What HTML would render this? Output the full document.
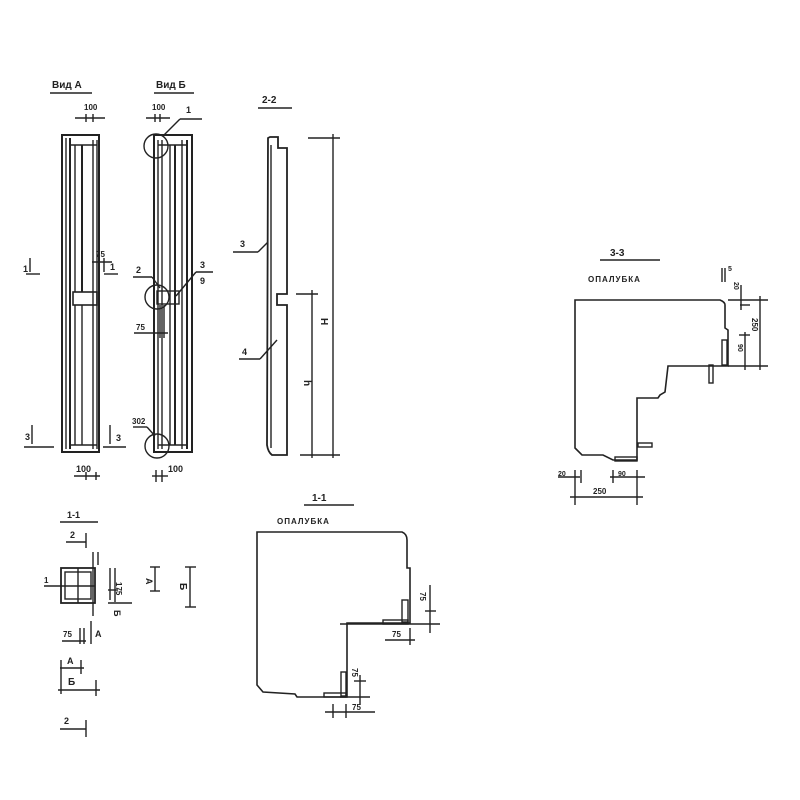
<!DOCTYPE html>
<html><head><meta charset="utf-8"><style>
html,body{margin:0;padding:0;background:#fff;}
svg{display:block}
text{font-family:"Liberation Sans",sans-serif;fill:#222;font-weight:bold}
</style></head><body>
<svg width="800" height="800" viewBox="0 0 800 800" xmlns="http://www.w3.org/2000/svg" stroke="#222" fill="none" stroke-width="1.4">
<!-- Titles -->
<text x="52" y="88" font-size="10" stroke="none">Вид А</text><line x1="50" y1="93" x2="92" y2="93"/>
<text x="156" y="88" font-size="10" stroke="none">Вид Б</text><line x1="154" y1="93" x2="194" y2="93"/>
<text x="262" y="103" font-size="10" stroke="none">2-2</text><line x1="258" y1="108" x2="292" y2="108"/>

<!-- Vid A column -->
<rect x="62" y="135" width="37" height="317" stroke-width="2"/>
<line x1="66" y1="138" x2="66" y2="449"/>
<line x1="70" y1="138" x2="70" y2="449" stroke-width="2"/>
<line x1="75" y1="145" x2="75" y2="292"/>
<line x1="82" y1="145" x2="82" y2="292" stroke-width="2"/>
<line x1="75" y1="305" x2="75" y2="445"/>
<line x1="82" y1="305" x2="82" y2="445"/>
<line x1="93" y1="140" x2="93" y2="449"/>
<line x1="97" y1="140" x2="97" y2="449"/>
<line x1="70" y1="145" x2="97" y2="145"/>
<line x1="70" y1="445" x2="97" y2="445"/>
<rect x="73" y="292" width="24" height="13" stroke-width="1.6"/>
<!-- dims A -->
<line x1="75" y1="118" x2="105" y2="118"/><line x1="86" y1="114" x2="86" y2="122"/><line x1="93" y1="114" x2="93" y2="122"/>
<text x="84" y="110" font-size="8" stroke="none">100</text>
<text x="76" y="472" font-size="9" stroke="none">100</text>
<line x1="74" y1="476" x2="100" y2="476"/><line x1="86" y1="472" x2="86" y2="480"/><line x1="96" y1="472" x2="96" y2="480"/>
<text x="23" y="272" font-size="9" stroke="none">1</text><line x1="30" y1="258" x2="30" y2="272"/><line x1="26" y1="274" x2="40" y2="274"/>
<line x1="104" y1="258" x2="104" y2="272"/><line x1="104" y1="274" x2="118" y2="274"/><text x="110" y="270" font-size="9" stroke="none">1</text>
<text x="96" y="257" font-size="8" stroke="none">75</text><line x1="92" y1="262" x2="112" y2="262"/>
<text x="25" y="440" font-size="9" stroke="none">3</text><line x1="32" y1="425" x2="32" y2="444"/><line x1="24" y1="447" x2="54" y2="447"/>
<line x1="110" y1="425" x2="110" y2="444"/><line x1="103" y1="447" x2="126" y2="447"/><text x="116" y="441" font-size="9" stroke="none">3</text>

<!-- Vid B column -->
<rect x="154" y="135" width="38" height="317" stroke-width="2"/>
<line x1="158" y1="140" x2="158" y2="449"/>
<line x1="162" y1="140" x2="162" y2="449"/>
<line x1="170" y1="145" x2="170" y2="445"/>
<line x1="175" y1="145" x2="175" y2="445" stroke-width="2"/>
<line x1="182" y1="140" x2="182" y2="449"/>
<line x1="187" y1="140" x2="187" y2="449" stroke-width="2"/>
<line x1="158" y1="145" x2="187" y2="145"/>
<line x1="158" y1="445" x2="187" y2="445"/>
<rect x="157" y="291" width="22" height="13"/>
<circle cx="156" cy="146" r="12"/><circle cx="157" cy="297" r="12"/><circle cx="157" cy="446" r="12"/>
<text x="152" y="110" font-size="8" stroke="none">100</text>
<line x1="146" y1="118" x2="170" y2="118"/><line x1="155" y1="114" x2="155" y2="122"/><line x1="160" y1="114" x2="160" y2="122"/>
<text x="186" y="113" font-size="9" stroke="none">1</text><line x1="163" y1="136" x2="180" y2="119"/><line x1="180" y1="119" x2="202" y2="119"/>
<text x="136" y="273" font-size="9" stroke="none">2</text><line x1="133" y1="277" x2="152" y2="277"/><line x1="152" y1="277" x2="160" y2="288"/>
<text x="200" y="268" font-size="9" stroke="none">3</text><line x1="196" y1="272" x2="213" y2="272"/><text x="200" y="284" font-size="9" stroke="none">9</text>
<line x1="196" y1="272" x2="176" y2="296"/>
<text x="136" y="330" font-size="8" stroke="none">75</text><line x1="134" y1="333" x2="168" y2="333"/>
<line x1="160" y1="305" x2="160" y2="338"/><line x1="164" y1="305" x2="164" y2="338"/>
<text x="132" y="424" font-size="8" stroke="none">302</text><line x1="133" y1="427" x2="147" y2="427"/><line x1="147" y1="427" x2="155" y2="436"/>
<text x="168" y="472" font-size="9" stroke="none">100</text>
<line x1="152" y1="476" x2="168" y2="476"/><line x1="156" y1="470" x2="156" y2="482"/><line x1="162" y1="470" x2="162" y2="482"/>

<!-- 2-2 profile -->
<path d="M268,138 L267,445 Q268,452 272,455 L287,455 L287,305 L277,305 L277,294 L287,294 L287,148 L278,148 L278,137 L270,137 Z" stroke-width="1.8"/>
<line x1="271" y1="145" x2="271" y2="448"/>
<line x1="308" y1="138" x2="340" y2="138"/><line x1="333" y1="134" x2="333" y2="458"/>
<line x1="296" y1="294" x2="318" y2="294"/><line x1="312" y1="290" x2="312" y2="458"/>
<line x1="300" y1="455" x2="340" y2="455"/>
<text x="0" y="0" font-size="10" stroke="none" transform="translate(321,318) rotate(90)">H</text>
<text x="0" y="0" font-size="10" stroke="none" transform="translate(304,380) rotate(90)">h</text>
<text x="240" y="247" font-size="9" stroke="none">3</text><line x1="233" y1="252" x2="258" y2="252"/><line x1="258" y1="252" x2="268" y2="242"/>
<text x="242" y="355" font-size="9" stroke="none">4</text><line x1="239" y1="359" x2="260" y2="359"/><line x1="260" y1="359" x2="277" y2="340"/>

<!-- small 1-1 -->
<text x="67" y="518" font-size="9" stroke="none">1-1</text><line x1="60" y1="522" x2="98" y2="522"/>
<text x="70" y="538" font-size="9" stroke="none">2</text><line x1="66" y1="542" x2="86" y2="542"/><line x1="86" y1="533" x2="86" y2="548"/>
<rect x="61" y="568" width="34" height="35" stroke-width="1.8"/>
<line x1="78" y1="568" x2="78" y2="603"/><line x1="61" y1="586" x2="95" y2="586"/>
<rect x="65" y="572" width="26" height="27"/>
<text x="44" y="583" font-size="8" stroke="none">1</text><line x1="44" y1="586" x2="62" y2="586"/>
<line x1="93" y1="552" x2="93" y2="616"/><line x1="98" y1="552" x2="98" y2="565"/>
<line x1="110" y1="568" x2="110" y2="600"/><line x1="108" y1="590" x2="118" y2="590"/>
<line x1="115" y1="568" x2="115" y2="602"/><line x1="108" y1="603" x2="132" y2="603"/>
<text x="0" y="0" font-size="8" stroke="none" transform="translate(116,582) rotate(90)">175</text>
<text x="0" y="0" font-size="9" stroke="none" transform="translate(114,610) rotate(90)">Б</text>
<line x1="155" y1="567" x2="155" y2="591"/><line x1="150" y1="567" x2="160" y2="567"/><line x1="150" y1="591" x2="160" y2="591"/>
<text x="0" y="0" font-size="9" stroke="none" transform="translate(146,578) rotate(90)">А</text>
<line x1="190" y1="567" x2="190" y2="607"/><line x1="185" y1="567" x2="196" y2="567"/><line x1="185" y1="607" x2="196" y2="607"/>
<text x="0" y="0" font-size="10" stroke="none" transform="translate(180,583) rotate(90)">Б</text>
<text x="63" y="637" font-size="8" stroke="none">75</text><line x1="62" y1="641" x2="86" y2="641"/><line x1="80" y1="628" x2="80" y2="644"/><line x1="84" y1="628" x2="84" y2="644"/>
<line x1="91" y1="621" x2="91" y2="644"/><text x="95" y="637" font-size="9" stroke="none">А</text>
<text x="67" y="664" font-size="9" stroke="none">А</text><line x1="60" y1="668" x2="84" y2="668"/><line x1="61" y1="660" x2="61" y2="694"/><line x1="81" y1="660" x2="81" y2="674"/>
<text x="68" y="685" font-size="10" stroke="none">Б</text><line x1="58" y1="690" x2="100" y2="690"/><line x1="96" y1="680" x2="96" y2="696"/>
<text x="64" y="724" font-size="9" stroke="none">2</text><line x1="60" y1="729" x2="86" y2="729"/><line x1="86" y1="720" x2="86" y2="737"/>

<!-- big 1-1 -->
<text x="312" y="501" font-size="10" stroke="none">1-1</text><line x1="304" y1="505" x2="354" y2="505"/>
<text x="277" y="524" font-size="8" stroke="none" letter-spacing="1">ОПАЛУБКА</text>
<path d="M257,532 L402,532 Q407,534 407,540 L407,568 L410,568 L410,623 L347,623 L347,697 L297,697 L295,694 L263,692 L257,685 Z" stroke-width="1.6"/>
<rect x="402" y="600" width="6" height="22"/><rect x="383" y="620" width="25" height="4"/>
<rect x="341" y="672" width="5" height="24"/><rect x="324" y="693" width="22" height="4"/>
<line x1="340" y1="624" x2="440" y2="624"/><line x1="430" y1="585" x2="430" y2="633"/><line x1="425" y1="611" x2="436" y2="611"/>
<text x="0" y="0" font-size="8" stroke="none" transform="translate(420,592) rotate(90)">75</text>
<line x1="385" y1="640" x2="415" y2="640"/><line x1="410" y1="628" x2="410" y2="645"/><text x="392" y="637" font-size="8" stroke="none">75</text>
<line x1="360" y1="675" x2="360" y2="705"/><line x1="354" y1="681" x2="366" y2="681"/><line x1="340" y1="697" x2="370" y2="697"/>
<text x="0" y="0" font-size="8" stroke="none" transform="translate(352,668) rotate(90)">75</text>
<line x1="325" y1="712" x2="375" y2="712"/><line x1="333" y1="704" x2="333" y2="718"/><line x1="346" y1="704" x2="346" y2="718"/>
<text x="352" y="710" font-size="8" stroke="none">75</text>

<!-- 3-3 -->
<text x="610" y="256" font-size="10" stroke="none">3-3</text><line x1="600" y1="260" x2="660" y2="260"/>
<text x="588" y="282" font-size="8" stroke="none" letter-spacing="1">ОПАЛУБКА</text>
<path d="M575,300 L720,300 Q725,302 725,305 L725,328 L728,330 L728,366 L668,366 L665,392 L660,395 L658,398 L637,398 L637,460 L613,460 L603,455 L582,455 L575,448 Z" stroke-width="1.6"/>
<rect x="722" y="340" width="5" height="25"/><rect x="615" y="457" width="22" height="4"/>
<rect x="709" y="365" width="4" height="18"/>
<rect x="638" y="443" width="14" height="4"/>
<line x1="728" y1="300" x2="768" y2="300"/><line x1="760" y1="296" x2="760" y2="370"/><line x1="728" y1="366" x2="768" y2="366"/>
<line x1="739" y1="335" x2="750" y2="335"/><line x1="745" y1="332" x2="745" y2="370"/>
<line x1="740" y1="305" x2="750" y2="305"/><line x1="741" y1="285" x2="741" y2="310"/>
<line x1="722" y1="268" x2="722" y2="282"/><line x1="725" y1="268" x2="725" y2="282"/>
<text x="728" y="271" font-size="7" stroke="none">5</text>
<text x="0" y="0" font-size="7" stroke="none" transform="translate(734,282) rotate(90)">20</text>
<text x="0" y="0" font-size="8" stroke="none" transform="translate(752,318) rotate(90)">250</text>
<text x="0" y="0" font-size="7" stroke="none" transform="translate(738,344) rotate(90)">90</text>
<line x1="558" y1="477" x2="580" y2="477"/><line x1="575" y1="470" x2="575" y2="505"/><line x1="581" y1="470" x2="581" y2="483"/>
<text x="558" y="476" font-size="7" stroke="none">20</text>
<line x1="610" y1="477" x2="645" y2="477"/><line x1="613" y1="470" x2="613" y2="483"/><line x1="637" y1="470" x2="637" y2="505"/>
<text x="618" y="476" font-size="7" stroke="none">90</text>
<line x1="570" y1="497" x2="643" y2="497"/><text x="593" y="494" font-size="8" stroke="none">250</text>
</svg>
</body></html>
